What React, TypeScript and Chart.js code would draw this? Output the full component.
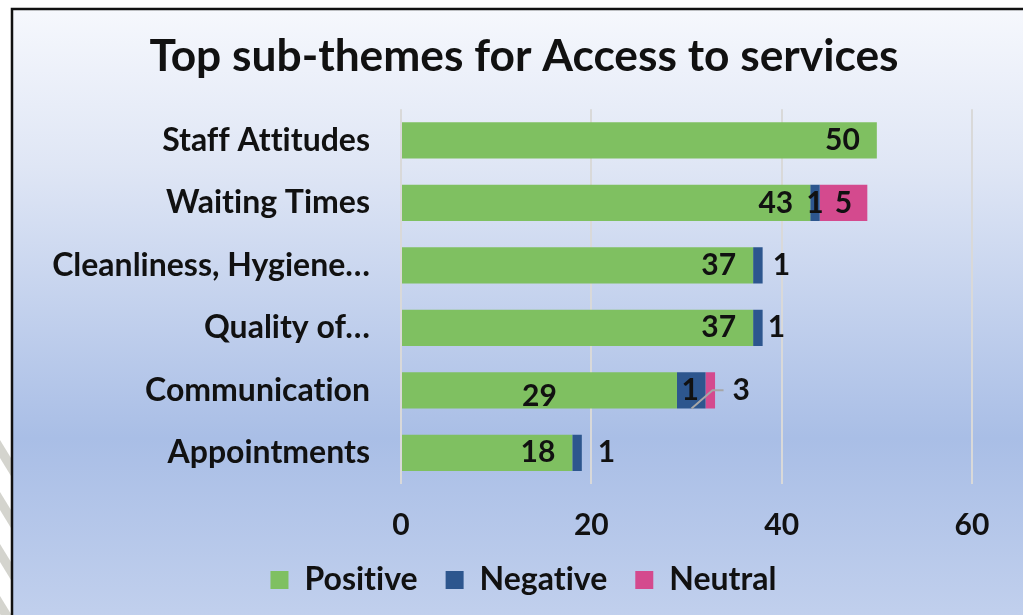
import React, { useEffect, useRef } from "react";
import { Chart, registerables } from "chart.js";

Chart.register(...registerables);

const categories = [
  "Staff Attitudes",
  "Waiting Times",
  "Cleanliness, Hygiene…",
  "Quality of…",
  "Communication",
  "Appointments",
];
const positiveValues = [50, 43, 37, 37, 29, 18];
const negativeValues = [0, 1, 1, 1, 3, 1];
const neutralValues = [0, 5, 0, 0, 1, 0];
const xTicks = [0, 20, 40, 60];
const titleText = "Top sub-themes for Access to services";

const FONT = "Lato";
const GREEN = "#7fc061";
const NAVY = "#2d568e";
const PINK = "#d44a8e";

type Place = { mode: "in" | "center" | "out" | "none"; dx?: number; dy?: number; leader?: boolean };

// label placement styles (per dataset, per category)
const positivePlace: Place[] = [
  { mode: "in" }, { mode: "in" }, { mode: "in" }, { mode: "in" },
  { mode: "center", dy: 6 }, { mode: "in" },
];
const negativePlace: Place[] = [
  { mode: "none" }, { mode: "center" }, { mode: "out", dx: 10 }, { mode: "out", dx: 5 },
  { mode: "out", dx: 27, leader: true }, { mode: "out", dx: 16 },
];
const neutralPlace: Place[] = [
  { mode: "none" }, { mode: "center" }, { mode: "none" }, { mode: "none" },
  { mode: "center", dx: -20 }, { mode: "none" },
];

const backgroundPlugin = {
  id: "bgFrame",
  beforeDraw(chart: any) {
    const { ctx, width, height } = chart;
    try {
      (ctx as any).textRendering = "optimizeSpeed";
    } catch (e) {}
    ctx.save();
    ctx.fillStyle = "#ffffff";
    ctx.fillRect(0, 0, width, height);
    // watermark stripes at the far left
    ctx.fillStyle = "#d4d4ce";
    for (let y0 = 440; y0 < height + 40; y0 += 52) {
      ctx.beginPath();
      ctx.moveTo(0, y0);
      ctx.lineTo(11, y0 + 18);
      ctx.lineTo(11, y0 + 36);
      ctx.lineTo(0, y0 + 18);
      ctx.closePath();
      ctx.fill();
    }
    const g = ctx.createLinearGradient(0, 9, 0, 640);
    g.addColorStop(0, "#f6f8fd");
    g.addColorStop(0.25, "#dfe6f5");
    g.addColorStop(0.68, "#a9bee6");
    g.addColorStop(1, "#c4d2ee");
    ctx.fillStyle = g;
    ctx.fillRect(11, 9, width - 11, height - 9);
    ctx.strokeStyle = "#111111";
    ctx.lineWidth = 2.5;
    ctx.beginPath();
    ctx.moveTo(12, height);
    ctx.lineTo(12, 9);
    ctx.lineTo(width, 9);
    ctx.stroke();
    ctx.restore();
  },
};

const labelPlugin = {
  id: "barLabels",
  afterDatasetsDraw(chart: any) {
    const { ctx } = chart;
    const places = [positivePlace, negativePlace, neutralPlace];
    ctx.save();
    ctx.font = `bold 30px ${FONT}`;
    ctx.fillStyle = "#111111";
    ctx.textBaseline = "middle";
    chart.data.datasets.forEach((ds: any, di: number) => {
      const meta = chart.getDatasetMeta(di);
      meta.data.forEach((el: any, i: number) => {
        const v = ds.data[i];
        const p = places[di][i];
        if (!v || p.mode === "none") return;
        const { x, base, y, height } = el.getProps(["x", "base", "y", "height"], true);
        const dx = p.dx || 0;
        const dy = p.dy || 0;
        const text = String(v);
        if (p.mode === "in") {
          ctx.textAlign = "right";
          ctx.fillText(text, x - 17 + dx, y + dy);
        } else if (p.mode === "center") {
          ctx.textAlign = "center";
          ctx.fillText(text, (x + base) / 2 + dx, y + dy);
        } else {
          if (p.leader) {
            ctx.strokeStyle = "#a6a6a6";
            ctx.lineWidth = 2;
            ctx.beginPath();
            ctx.moveTo(x - 14, y + height / 2);
            ctx.lineTo(x + 7, y);
            ctx.lineTo(x + 18, y);
            ctx.stroke();
          }
          ctx.textAlign = "left";
          ctx.fillText(text, x + dx, y + dy);
        }
      });
    });
    ctx.restore();
  },
};

export default function App() {
  const ref = useRef<HTMLCanvasElement | null>(null);
  useEffect(() => {
    document.body.style.margin = "0";
    document.body.style.overflow = "hidden";
    const canvas = ref.current!;
    const chart = new Chart(canvas, {
      type: "bar",
      data: {
        labels: categories,
        datasets: [
          { label: "Positive", data: positiveValues, backgroundColor: GREEN },
          { label: "Negative", data: negativeValues, backgroundColor: NAVY },
          { label: "Neutral", data: neutralValues, backgroundColor: PINK },
        ],
      },
      options: {
        indexAxis: "y",
        animation: false,
        responsive: false,
        devicePixelRatio: 1,
        datasets: { bar: { categoryPercentage: 1, barPercentage: 0.58 } },
        layout: { padding: { left: 30, right: 5, top: 9, bottom: 9 } },
        scales: {
          x: {
            stacked: true,
            min: 0,
            max: 60,
            afterBuildTicks: (s: any) => {
              s.ticks = xTicks.map((v) => ({ value: v }));
            },
            afterFit: (s: any) => {
              s.height = 52;
            },
            grid: { color: "#d9d9d9", lineWidth: 2, drawTicks: false },
            border: { display: false },
            ticks: {
              color: "#111111",
              padding: 23,
              font: { family: FONT, size: 30, weight: "bold" },
            },
          },
          y: {
            stacked: true,
            afterFit: (s: any) => {
              s.width = 371;
            },
            grid: { display: false, drawTicks: false },
            border: { display: false },
            ticks: {
              color: "#111111",
              padding: 31,
              font: { family: FONT, size: 32, weight: "bold" },
            },
          },
          yRight: {
            type: "category",
            position: "right",
            labels: categories,
            afterFit: (s: any) => {
              s.width = 46;
            },
            grid: { display: false, drawTicks: false },
            border: { display: false },
            ticks: { display: false },
          },
        },
        plugins: {
          title: {
            display: true,
            text: titleText,
            color: "#111111",
            font: { family: FONT, size: 44.3, weight: "bold" },
            padding: { top: 21, bottom: 26 },
          },
          legend: {
            position: "bottom",
            labels: {
              color: "#111111",
              boxWidth: 18,
              boxHeight: 18,
              padding: 28,
              font: { family: FONT, size: 32, weight: "bold" },
            },
          },
          tooltip: { enabled: false },
        },
      },
      plugins: [backgroundPlugin, labelPlugin],
    });
    return () => chart.destroy();
  }, []);
  return <canvas ref={ref} width={1023} height={615} style={{ display: "block" }} />;
}
